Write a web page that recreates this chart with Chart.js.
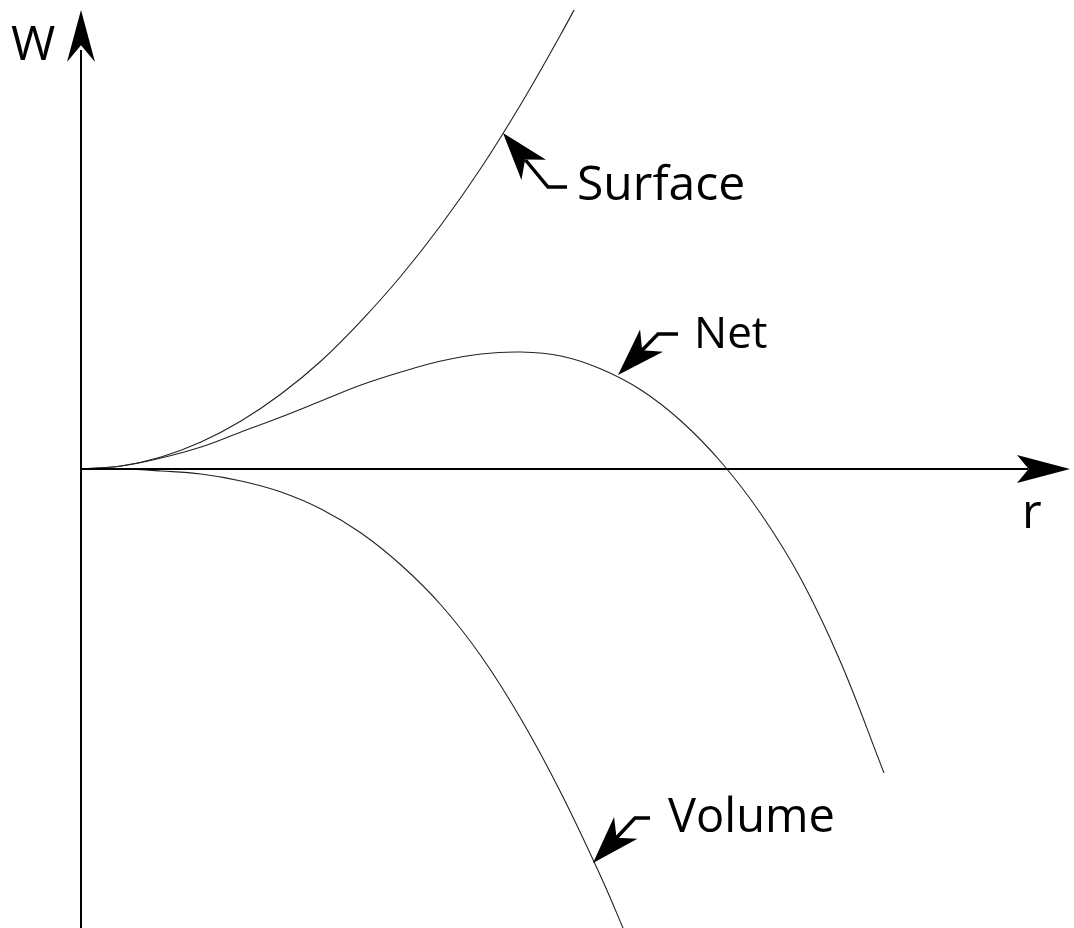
<!DOCTYPE html>
<html>
<head>
<meta charset="utf-8">
<script src="https://cdn.jsdelivr.net/npm/chart.js@4/dist/chart.umd.min.js"></script>
<style>
  html, body { margin: 0; padding: 0; background: #fff; }
  #wrap { width: 1074px; height: 928px; position: relative; }
</style>
</head>
<body>
<div id="wrap"><canvas id="c"></canvas></div>
<script>
// ---- data (arbitrary units: r along x, W along y) ----
const surfaceR = [0, 40, 80, 120, 160, 200, 240, 280, 320, 360, 400, 440, 480, 500];
const surfaceW = [0, 3, 12, 27, 48, 75, 108, 148, 193, 244, 301, 365, 435, 472];

const netR = [0, 40, 80, 120, 160, 200, 240, 280, 320, 360, 400, 440, 480, 520, 560, 600, 640, 680, 720, 760, 803];
const netW = [0, 3, 11, 22, 37, 52, 68, 84, 97, 108, 115, 117, 113, 100, 79, 48, 7, -45, -110, -194, -304];

const volumeR = [0, 40, 80, 120, 160, 200, 240, 280, 320, 360, 400, 440, 480, 520, 545];
const volumeW = [0, 0, -2, -5, -12, -23, -40, -64, -96, -136, -187, -250, -324, -408, -466];

const seriesNames = ['Surface', 'Net', 'Volume'];
const axisLabels = { y: 'W', x: 'r' };

function pts(rs, ws) { return rs.map((r, i) => ({ x: r, y: ws[i] })); }

const lineStyle = {
  showLine: true, pointRadius: 0, borderColor: '#222', borderWidth: 1.1,
  fill: false, tension: 0.4
};

// annotation arrows: tip at a point on a curve (data units), plus pixel offsets
const callouts = [
  { r: 422, w: 336,  corner: [45, 54],  end: [64, 54],  text: 'Surface', font: '48px "Open Sans"', tx: 74, ty: 67 },
  { r: 537, w: 94,   corner: [40, -41], end: [60, -41], text: 'Net',     font: '44px "Open Sans"', tx: 76, ty: -27 },
  { r: 512, w: -394, corner: [42, -45], end: [57, -45], text: 'Volume',  font: '47px "Open Sans"', tx: 75, ty: -31 }
];

function drawHead(ctx, tx, ty, dx, dy, len, half, notch) {
  const L = Math.hypot(dx, dy); const ux = dx / L, uy = dy / L; const px = -uy, py = ux;
  ctx.beginPath();
  ctx.moveTo(tx, ty);
  ctx.lineTo(tx + ux * len + px * half, ty + uy * len + py * half);
  ctx.lineTo(tx + ux * len * notch, ty + uy * len * notch);
  ctx.lineTo(tx + ux * len - px * half, ty + uy * len - py * half);
  ctx.closePath();
  ctx.fill();
}

const overlay = {
  id: 'overlay',
  afterDatasetsDraw(chart) {
    const ctx = chart.ctx, xs = chart.scales.x, ys = chart.scales.y;
    const ox = xs.getPixelForValue(0), oy = ys.getPixelForValue(0);
    const ca = chart.chartArea;
    ctx.save();
    ctx.fillStyle = '#000'; ctx.strokeStyle = '#000'; ctx.lineWidth = 2;
    // y axis
    ctx.beginPath(); ctx.moveTo(ox, ca.bottom); ctx.lineTo(ox, ca.top + 40); ctx.stroke();
    drawHead(ctx, ox, ca.top, 0, 1, 52, 14, 0.68);
    // x axis
    const xr = ca.right;
    ctx.beginPath(); ctx.moveTo(ox, oy); ctx.lineTo(xr - 42, oy); ctx.stroke();
    drawHead(ctx, xr, oy, -1, 0, 53, 14, 0.78);
    // axis labels
    ctx.textBaseline = 'alphabetic'; ctx.textAlign = 'left';
    ctx.font = '48px "Open Sans"';
    ctx.fillText(axisLabels.y, ox - 70, ca.top + 50);
    ctx.fillText(axisLabels.x, xr - 48, oy + 59);
    // callouts
    callouts.forEach(c => {
      const tx = xs.getPixelForValue(c.r), ty = ys.getPixelForValue(c.w);
      const cx = tx + c.corner[0], cy = ty + c.corner[1];
      ctx.lineWidth = 3.5;
      ctx.beginPath(); ctx.moveTo(tx + (cx - tx) * 0.5, ty + (cy - ty) * 0.5);
      ctx.lineTo(cx, cy); ctx.lineTo(tx + c.end[0], ty + c.end[1]); ctx.stroke();
      drawHead(ctx, tx, ty, cx - tx, cy - ty, 48, 16, 0.72);
      ctx.font = c.font;
      ctx.fillText(c.text, tx + c.tx, ty + c.ty);
    });
    ctx.restore();
  }
};

new Chart(document.getElementById('c'), {
  type: 'scatter',
  data: {
    datasets: [
      Object.assign({ label: seriesNames[0], data: pts(surfaceR, surfaceW) }, lineStyle),
      Object.assign({ label: seriesNames[1], data: pts(netR, netW) }, lineStyle),
      Object.assign({ label: seriesNames[2], data: pts(volumeR, volumeW) }, lineStyle)
    ]
  },
  options: {
    responsive: true, maintainAspectRatio: false, animation: false,
    layout: { padding: { left: 81, right: 4, top: 10, bottom: 0 } },
    plugins: { legend: { display: false }, tooltip: { enabled: false } },
    scales: {
      x: { type: 'linear', min: 0, max: 989, display: false },
      y: { type: 'linear', min: -459, max: 459, display: false }
    }
  },
  plugins: [overlay]
});
</script>
</body>
</html>
